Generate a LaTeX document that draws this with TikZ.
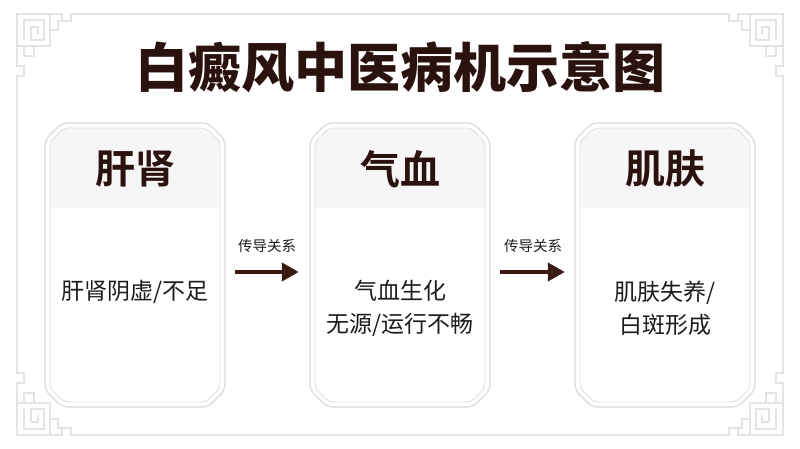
\documentclass[tikz,border=0pt]{standalone}
\usepackage{fontspec}
\setmainfont{Noto Sans CJK SC}[BoldFont={* Bold}]
\newfontfamily\titlefont{Noto Sans CJK SC}[UprightFont={* Black}]
\usetikzlibrary{arrows.meta}
\definecolor{ink}{HTML}{2A120E}
\definecolor{bodyink}{HTML}{1C1C1C}
\definecolor{framegray}{HTML}{E4E4E4}
\definecolor{boxline}{HTML}{DADADA}
\definecolor{headfill}{HTML}{F6F6F6}
\definecolor{arrowink}{HTML}{3B1A14}
\tikzset{
  fret/.style={draw=framegray, line width=1.6pt, line join=miter},
  boxouter/.style={draw=boxline, line width=1.2pt, fill=white, rounded corners=6pt},
  boxinner/.style={draw=boxline!80, line width=0.9pt, rounded corners=5pt},
  headtxt/.style={font=\bfseries\fontsize{40}{42}\selectfont, text=ink},
  bodytxt/.style={font=\fontsize{23}{33}\selectfont, text=bodyink, align=center},
  reltxt/.style={font=\fontsize{14.5}{16}\selectfont, text=bodyink},
  arr/.style={draw=arrowink, line width=4pt, -{Triangle[length=17pt,width=18pt]}},
  boxnode/.style={minimum width=180pt, minimum height=284pt, inner sep=0pt}
}
% chamfered outline
\newcommand\chamf[5]{(#1+#5,#2) -- (#3-#5,#2) -- (#3,#2+#5) -- (#3,#4-#5) -- (#3-#5,#4) -- (#1+#5,#4) -- (#1,#4-#5) -- (#1,#2+#5) -- cycle}
% corner ornament (top-left), drawn up to the mid points
\newcommand\fretcorner{%
  \draw[fret] (17,224.5) -- (17,76) -- (24,76) -- (24,66) -- (17,66) -- (17,14) -- (62,14) -- (62,21) -- (71,21) -- (71,14) -- (400,14);
  \draw[fret] (17,46) -- (50,46) -- (50,14);
  \draw[fret] (24,40) -- (24,20) -- (44,20) -- (44,40) -- (31,40) -- (31,27) -- (38,27) -- (38,34);
  \draw[fret] (34,46) -- (34,56) -- (24,56) -- (24,46);
  \draw[fret] (50,30) -- (58,30) -- (58,21) -- (62,21);
}
\newcommand\cardshape[4]{% x0 y0 x1 y1
  \path[boxouter] \chamf{#1}{#2}{#3}{#4}{17};
  \begin{scope}
    \clip \chamf{#1+5}{#2+5}{#3-5}{#4-5}{14};
    \fill[headfill] (#1,#2) rectangle (#3,208);
  \end{scope}
  \path[boxinner] \chamf{#1+5}{#2+5}{#3-5}{#4-5}{14};
}
\begin{document}
\begin{tikzpicture}[x=1pt,y=-1pt]
\useasboundingbox (0,0) rectangle (800,449);
\fill[white] (0,0) rectangle (800,449);
% page frame with fret corners
\fretcorner
\begin{scope}[shift={(800,0)},xscale=-1]\fretcorner\end{scope}
\begin{scope}[shift={(0,449)},yscale=-1]\fretcorner\end{scope}
\begin{scope}[shift={(800,449)},xscale=-1,yscale=-1]\fretcorner\end{scope}
% title
\node (title) at (400,67) {\titlefont\fontsize{53}{56}\selectfont\color{ink}白癜风中医病机示意图};
% cards
\cardshape{45}{123}{225}{407}
\cardshape{310}{123}{490}{407}
\cardshape{575}{123}{755}{407}
\node[boxnode] (b1) at (135,265) {};
\node[boxnode] (b2) at (400,265) {};
\node[boxnode] (b3) at (665,265) {};
% headers
\node[headtxt] (h1) at (135,169) {肝肾};
\node[headtxt] (h2) at (400,169) {气血};
\node[headtxt] (h3) at (665,169) {肌肤};
% bodies
\node[bodytxt] (t1) at (135,292) {肝肾阴虚/不足};
\node[bodytxt] (t2) at (400,308.5) {气血生化\\无源/运行不畅};
\node[bodytxt] (t3) at (665,308.5) {肌肤失养/\\白斑形成};
% relations
\draw[arr] ([shift={(10,7)}]b1.east) -- ([shift={(-11,7)}]b2.west);
\draw[arr] ([shift={(10,7)}]b2.east) -- ([shift={(-10,7)}]b3.west);
\node[reltxt] (r1) at (267,246) {传导关系};
\node[reltxt] (r2) at (533,246) {传导关系};
\end{tikzpicture}
\end{document}
